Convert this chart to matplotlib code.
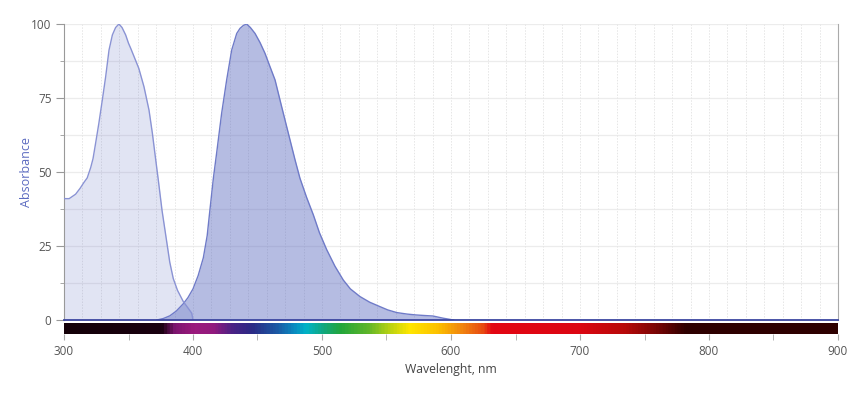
import numpy as np
import matplotlib
matplotlib.use('Agg')
from matplotlib import pyplot as plt
from matplotlib.colors import LinearSegmentedColormap
from matplotlib.ticker import MultipleLocator, FixedLocator

plt.rcParams['font.family'] = ['Open Sans', 'DejaVu Sans']

# absorbance spectrum (light)
abs_nm = [300, 304, 309, 312.5, 315.5, 318, 320.7, 322.5, 324.5, 327, 329.7, 332.3, 334.9, 337.5,
          340, 342.6, 345, 347.8, 350, 351.7, 354.3, 358, 362, 365.9, 368.5, 371.1, 373.1,
          376, 379.6, 382, 384.7, 388, 392.5, 396.4, 399, 400]
abs_val = [41, 41, 42.5, 44.5, 46.5, 48, 51.5, 54.5, 59.7, 66.4, 74.3, 82.2, 91.2, 96.3,
           98.8, 100, 98.8, 96.3, 93.5, 91.8, 89, 85, 78.8, 70.9, 63.1, 54.1, 47.3,
           37, 26.5, 19.5, 14, 10, 6.2, 3.9, 2.3, 0]

# emission spectrum (dark)
em_nm = [372, 377, 382, 387, 392.5, 396, 400, 404, 408, 411, 413.2, 415.8, 418.3, 422.2, 426.1,
         430, 433.9, 436.4, 439, 441.6, 444.5, 448.1, 452, 455.8, 459.5, 463.6, 468.7, 473.9,
         479.1, 482.9, 488, 493.3, 498, 503.6, 510, 516.5, 522, 529.5, 537, 545, 551, 558,
         566, 573, 580, 586, 594, 602]
em_val = [0, 0.5, 1.4, 3, 5.5, 7.5, 10.5, 15, 21, 28.5, 37.5, 47.9, 56.3, 69.8, 81.1,
          91.2, 96.8, 98.5, 99.5, 100, 98.8, 96.8, 93.7, 90.1, 85.8, 81.1, 72.1, 63.1,
          54.1, 47.9, 41.5, 35.5, 29.5, 23.8, 18.2, 13.5, 10.5, 7.9, 6, 4.5, 3.4, 2.5,
          2, 1.7, 1.5, 1.35, 0.6, 0]

# visible spectrum colour stops for the bar under the axis
spec_nm = [300, 375, 385, 400, 415, 430, 445, 465, 478, 487, 500, 514, 535, 553, 568, 590,
           610, 625, 632, 700, 735, 760, 783, 900]
spec_col = ['#140008', '#1a0010', '#7d1570', '#9b1a7d', '#921a7e', '#4a2285', '#2b2a85',
            '#1b5aa5', '#0a8ac0', '#00b4c8', '#10a882', '#22a63c', '#5db52a', '#bcd312',
            '#ffe600', '#fcc000', '#f08010', '#e84a12', '#e30613', '#dc0612', '#b80a0a',
            '#7a0505', '#2e0000', '#2e0000']

x_ticks = [300, 400, 500, 600, 700, 800, 900]
y_ticks = [0, 25, 50, 75, 100]

W, H = 851, 399
fig = plt.figure(figsize=(W / 100, H / 100), dpi=100)
ax = fig.add_axes([64 / W, 1 - 320 / H, 774 / W, 296 / H])
ax.set_xlim(300, 900)
ax.set_ylim(0, 100)

# grid
for yv in np.arange(12.5, 100.1, 12.5):
    ax.axhline(yv, color='#ececec', lw=0.9, zorder=0)
for xv in np.linspace(300, 900, 43)[1:-1]:
    ax.axvline(xv, color='#e6e6e6', lw=0.7, ls=(0, (1.5, 1.5)), zorder=0)

ax.fill_between(em_nm, em_val, color='#5c6bc0', alpha=0.45, lw=0, zorder=2)
ax.plot(em_nm, em_val, color='#6f7bc8', lw=1, zorder=3)
ax.fill_between(abs_nm, abs_val, color='#5c6bc0', alpha=0.18, lw=0, zorder=2)
ax.plot(abs_nm, abs_val, color='#8a93d4', lw=1, zorder=3)
ax.axhline(0, color='#3c46a0', lw=1.3, zorder=4, clip_on=False)

for s in ['top', 'bottom']:
    ax.spines[s].set_visible(False)
ax.spines['left'].set_color('#999999')
ax.spines['right'].set_color('#aaaaaa')
ax.set_xticks([])
ax.yaxis.set_major_locator(FixedLocator(y_ticks))
ax.yaxis.set_minor_locator(MultipleLocator(12.5))
ax.tick_params(axis='y', which='major', length=6, color='#999999', labelcolor='#555555',
               labelsize=8.5, pad=3)
ax.tick_params(axis='y', which='minor', length=3, color='#999999')

# spectrum bar
bar = fig.add_axes([64 / W, 1 - 334 / H, 774 / W, 11 / H])
stops = [(n - 300) / 600 for n in spec_nm]
cmap = LinearSegmentedColormap.from_list('spec', list(zip(stops, spec_col)))
bar.imshow(np.linspace(0, 1, 1200)[None, :], aspect='auto', cmap=cmap,
           extent=[300, 900, 0, 1])
bar.set_xlim(300, 900)
bar.set_yticks([])
for s in bar.spines.values():
    s.set_visible(False)
bar.xaxis.set_major_locator(FixedLocator(x_ticks))
bar.xaxis.set_minor_locator(MultipleLocator(50))
bar.tick_params(axis='x', which='both', length=4, color='#aaaaaa', labelcolor='#555555',
                labelsize=8.5, pad=4)

fig.text(451 / W, 1 - 370 / H, 'Wavelenght, nm', ha='center', va='center',
         color='#444444', fontsize=8.8)
fig.text(27 / W, 1 - 172 / H, 'Absorbance', ha='center', va='center', rotation=90,
         color='#5c6bc0', fontsize=9)

fig.savefig('out.png', dpi=100)
